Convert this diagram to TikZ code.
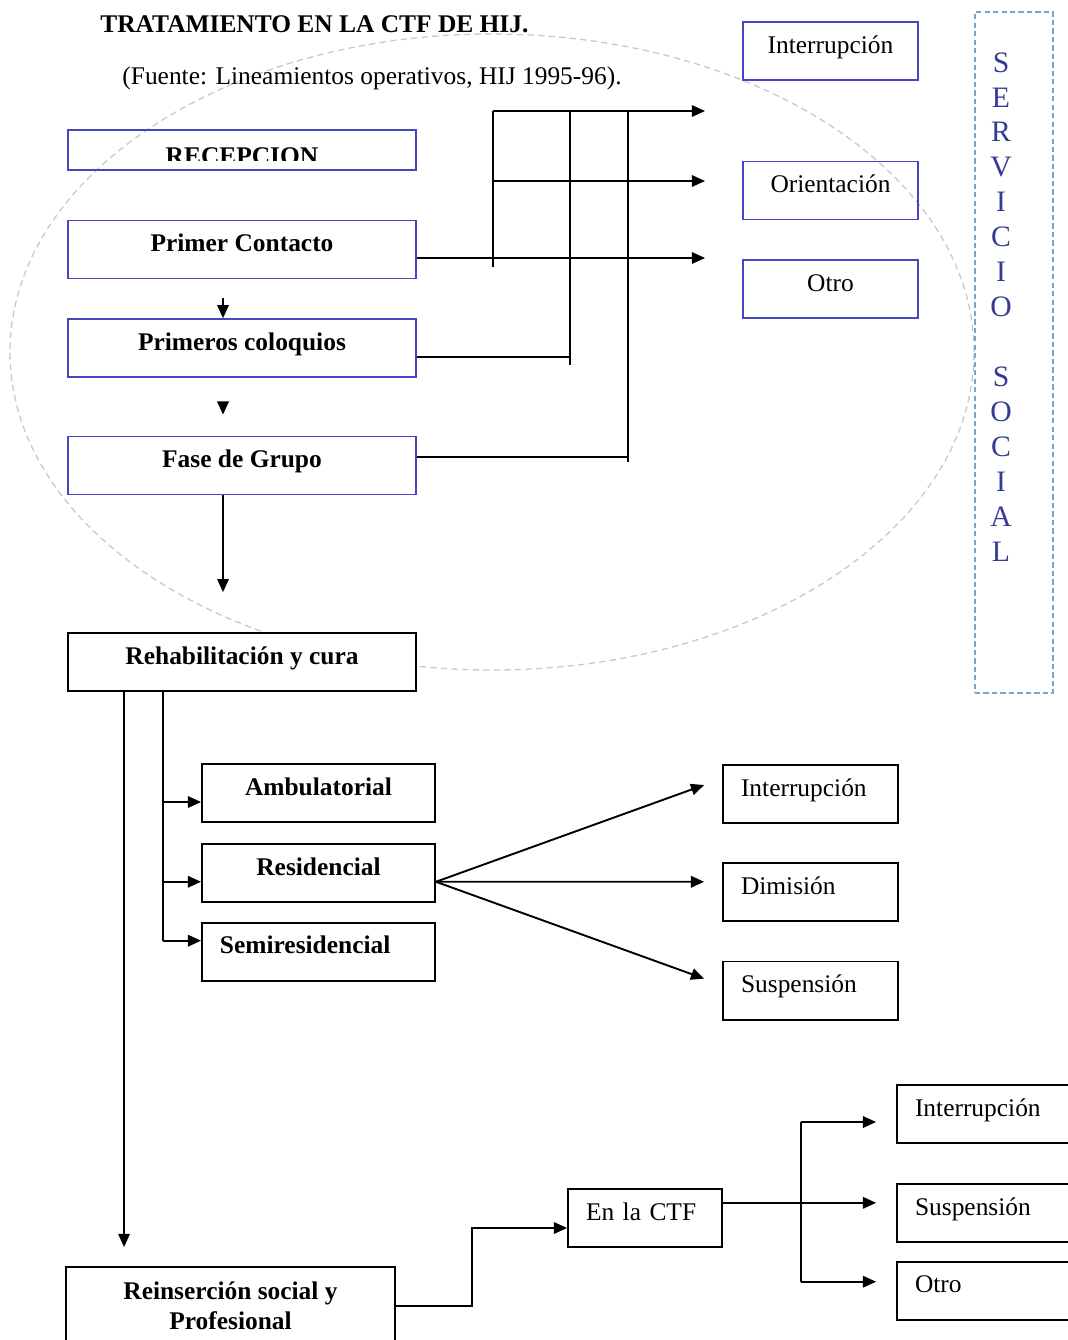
\documentclass[tikz,border=0pt]{standalone}
\usepackage{fontspec}
\setmainfont{Liberation Serif}
\usetikzlibrary{positioning,calc,arrows.meta}
\definecolor{bordeazul}{RGB}{70,70,190}
\definecolor{letraazul}{RGB}{50,60,150}
\definecolor{punteado}{RGB}{200,200,200}
\definecolor{marco}{RGB}{120,165,200}

\begin{document}
\begin{tikzpicture}[x=0.472pt, y=-0.472pt,
    font=\fontsize{12pt}{14.2pt}\selectfont,
    negrita/.style={font=\fontsize{12pt}{14.2pt}\selectfont\bfseries},
    marcocaja/.style={draw, line width=0.85pt, inner sep=2pt, align=center},
    caja/.style={marcocaja, minimum height=27.4pt, text height=8.3pt, text depth=6.2pt},
    cajaazul/.style={caja, draw=bordeazul, line width=0.7pt},
    izq/.style={align=left, inner xsep=8.5pt, text width=#1},
    flecha/.style={line width=0.9pt, -{Triangle[length=6.2pt,width=5.4pt]}},
    linea/.style={line width=0.9pt}]
    \useasboundingbox (0,0) rectangle (1068,1340);

    % fondo
    \draw[punteado, dash pattern=on 3pt off 2pt, line width=0.6pt] (492,352) ellipse [x radius=227.5pt, y radius=150.1pt];

    \node (titulo) [anchor=base west, inner sep=0pt, negrita] at (100,32) {TRATAMIENTO EN LA CTF DE HIJ.};
    \node (fuente) [anchor=base west, inner sep=0pt] at (122,84) {(Fuente: Lineamientos operativos, HIJ 1995-96).};

    % recepcion
    \node (recepcion) [cajaazul, minimum width=164.3pt, minimum height=18.9pt] at (242,150) {};
    \begin{scope}
        \clip (recepcion.north west) rectangle ($(recepcion.south east)+(0,-10)$);
        \node (recepciontxt) [anchor=base, inner sep=0pt, negrita] at (242,164) {RECEPCION};
    \end{scope}
    \node (contacto) [cajaazul, minimum width=164.3pt, below=23.1pt of recepcion, negrita] {Primer Contacto};
    \node (coloquios) [cajaazul, minimum width=164.3pt, below=18.4pt of contacto, negrita] {Primeros coloquios};
    \node (grupo) [cajaazul, minimum width=164.3pt, below=27.4pt of coloquios, negrita] {Fase de Grupo};
    \node (rehab) [caja, fill=white, minimum width=164.3pt, below=64.7pt of grupo, negrita] {Rehabilitación y cura};

    \node (interr0) [cajaazul, minimum width=82.6pt] at (830.5,51) {Interrupción};
    \node (orient) [cajaazul, minimum width=82.6pt, below=37.8pt of interr0] {Orientación};
    \node (otro0) [cajaazul, minimum width=82.6pt, below=18.4pt of orient] {Otro};

    \node (servicio) [draw=marco, dash pattern=on 2.5pt off 1.5pt, line width=0.6pt, minimum width=36.8pt, minimum height=321.4pt] at (1014,352.5) {};
    \node (serviciotxt) [anchor=north, inner sep=0pt, text=letraazul, align=center, font=\fontsize{14pt}{16.5pt}\selectfont] at (1001,52) {S\\E\\R\\V\\I\\C\\I\\O\\[16.5pt]S\\O\\C\\I\\A\\L};

    % rehabilitacion
    \node (ambul) [caja, minimum width=110pt, negrita] at (318.5,793) {Ambulatorial};
    \node (resid) [caja, minimum width=110pt, below=9.4pt of ambul, negrita] {Residencial};
    \node (semires) [caja, minimum width=110pt, below=9pt of resid, negrita, izq=93pt] {Semiresidencial};

    \node (interr1) [caja, izq=65.6pt] at (810.5,794) {Interrupción};
    \node (dimision) [caja, izq=65.6pt, below=17.9pt of interr1] {Dimisión};
    \node (susp1) [caja, izq=65.6pt, below=18.4pt of dimision] {Suspensión};

    % reinsercion
    \node (reins) [marcocaja, minimum width=155.3pt, minimum height=36.8pt, negrita] at (230.5,1306) {Reinserción social y\\Profesional};
    \node (ctf) [caja, izq=55.7pt] at (645,1218) {En la CTF};
    \node (interr2) [caja, izq=67pt] at (986,1114) {Interrupción};
    \node (susp2) [caja, izq=67pt, below=18.4pt of interr2] {Suspensión};
    \node (otro2) [caja, izq=67pt, below=8.5pt of susp2] {Otro};

    % salidas de recepcion
    \coordinate (fin1) at (705,111);
    \coordinate (fin2) at (705,181);
    \coordinate (fin3) at (705,258);
    \coordinate (bus1) at (493,111);
    \coordinate (bus2) at (570,111);
    \coordinate (bus3) at (628,111);
    \draw[flecha] (bus1) -- (fin1);
    \draw[flecha] (bus1 |- fin2) -- (fin2);
    \draw[flecha] (contacto.east |- fin3) -- (fin3);
    \draw[linea] (bus1) -- ++(0,156);
    \draw[linea] (bus2) -- ++(0,254);
    \draw[linea] (bus3) -- ++(0,351);
    \draw[linea] ($(coloquios.east)+(0,9)$) coordinate (c2) -- (c2 -| bus2);
    \draw[linea] ($(grupo.east)+(0,-9)$) coordinate (c3) -- (c3 -| bus3);

    \draw[flecha, shorten <=9pt] ($(contacto.south)+(-19,0)$) -- ($(coloquios.north)+(-19,0)$);
    \draw[flecha, shorten <=12pt, shorten >=10pt] ($(coloquios.south)+(-19,0)$) -- ($(grupo.north)+(-19,0)$);
    \draw[flecha, shorten >=19pt] ($(grupo.south)+(-19,0)$) -- ($(rehab.north)+(-19,0)$);

    % modalidades
    \coordinate (a1) at ($(ambul.west)+(0,9)$);
    \coordinate (a2) at ($(resid.west)+(0,9)$);
    \coordinate (a3) at ($(semires.west)+(0,-11)$);
    \draw[flecha, shorten >=9pt] ($(rehab.south west)+(57,0)$) coordinate (r1) -- (r1 |- reins.north);
    \draw[linea] ($(rehab.south west)+(96,0)$) coordinate (r2) -- (r2 |- a3);
    \draw[flecha] (r2 |- a1) -- (a1);
    \draw[flecha] (r2 |- a2) -- (a2);
    \draw[flecha] (r2 |- a3) -- (a3);

    \coordinate (o1) at ($(resid.east)+(0,9)$);
    \coordinate (f1) at ($(interr1.west)+(-18,-9)$);
    \coordinate (f2) at ($(dimision.west)+(-18,-10)$);
    \coordinate (f3) at ($(susp1.west)+(-18,-12)$);
    \draw[flecha] (o1) -- (f1);
    \draw[flecha] (o1) -- (f2);
    \draw[flecha] (o1) -- (f3);

    % salidas de la CTF
    \draw[flecha] (reins.east) -- ++(76,0) |- ($(ctf.west)+(0,10)$);
    \coordinate (s1) at ($(interr2.west)+(-20,8)$);
    \coordinate (s2) at ($(susp2.west)+(-20,-10)$);
    \coordinate (s3) at ($(otro2.west)+(-20,-9)$);
    \coordinate (bus4) at ($(ctf.east)+(78,0)$);
    \draw[flecha] (ctf.east |- s2) -- (s2);
    \draw[linea] (bus4 |- s1) -- (bus4 |- s3);
    \draw[flecha] (bus4 |- s1) -- (s1);
    \draw[flecha] (bus4 |- s3) -- (s3);
\end{tikzpicture}
\end{document}
